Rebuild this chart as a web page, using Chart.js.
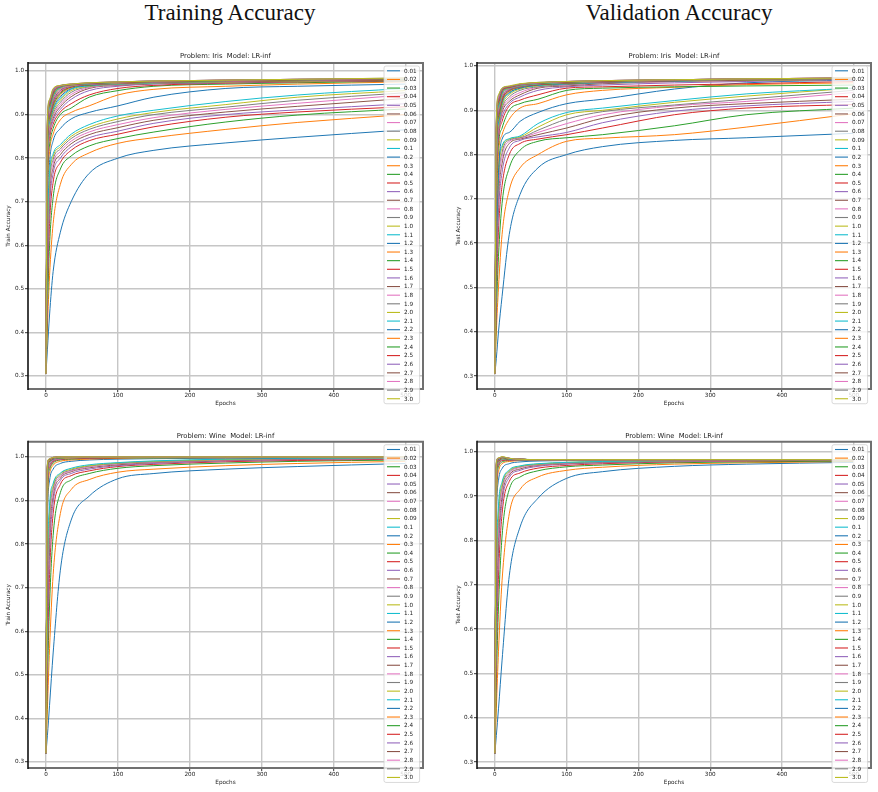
<!DOCTYPE html>
<html>
<head>
<meta charset="utf-8">
<title>Training / Validation Accuracy</title>
<script src="https://cdn.jsdelivr.net/npm/chart.js@4.4.1/dist/chart.umd.min.js"></script>
<style>
  html, body { margin: 0; padding: 0; background: #fff; }
  #fig { position: relative; width: 878px; height: 792px; overflow: hidden; }
  .col-title { position: absolute; top: 1px; width: 300px; text-align: center;
    font: 23px 'Liberation Serif', 'DejaVu Serif', serif; line-height: 23px; color: #111; }
  canvas { position: absolute; }
</style>
</head>
<body>
<div id="fig">
  <div class="col-title" style="left:80px">Training Accuracy</div>
  <div class="col-title" style="left:529px">Validation Accuracy</div>
  <canvas id="c-iris-train" style="left:0;top:40px" width="440" height="375"></canvas>
  <canvas id="c-iris-test" style="left:440px;top:40px" width="438" height="375"></canvas>
  <canvas id="c-wine-train" style="left:0;top:425px" width="440" height="367"></canvas>
  <canvas id="c-wine-test" style="left:440px;top:425px" width="438" height="367"></canvas>
</div>
<script>
// learning rates, one line per rate
const lrLabels = ['0.01', '0.02', '0.03', '0.04', '0.05', '0.06', '0.07', '0.08', '0.09',
  '0.1', '0.2', '0.3', '0.4', '0.5', '0.6', '0.7', '0.8', '0.9', '1.0', '1.1', '1.2', '1.3',
  '1.4', '1.5', '1.6', '1.7', '1.8', '1.9', '2.0', '2.1', '2.2', '2.3', '2.4', '2.5', '2.6',
  '2.7', '2.8', '2.9', '3.0'];

// sampled epochs (the x of every row below)
const epochs = [0, 2, 5, 10, 20, 35, 60, 100, 150, 250, 350, 499];

const xTicks = [0, 100, 200, 300, 400, 500];
const yTicks = [0.3, 0.4, 0.5, 0.6, 0.7, 0.8, 0.9, 1.0];

// matplotlib tab10
const tab10 = ['#1f77b4', '#ff7f0e', '#2ca02c', '#d62728', '#9467bd',
  '#8c564b', '#e377c2', '#7f7f7f', '#bcbd22', '#17becf'];

// Iris - train accuracy, one row per learning rate
const irisTrainAcc = [
  [.305, .36, .44, .54, .63, .70, .765, .80, .818, .835, .848, .865],
  [.305, .41, .53, .65, .74, .785, .812, .834, .847, .866, .882, .90],
  [.305, .45, .60, .71, .775, .805, .828, .845, .86, .883, .899, .913],
  [.305, .49, .65, .745, .79, .818, .84, .855, .872, .894, .906, .918],
  [.305, .52, .685, .765, .80, .826, .847, .862, .88, .90, .911, .925],
  [.305, .55, .71, .778, .808, .833, .854, .87, .887, .906, .919, .937],
  [.305, .57, .728, .788, .815, .839, .86, .877, .893, .912, .926, .945],
  [.305, .59, .742, .797, .821, .845, .866, .884, .90, .917, .933, .95],
  [.305, .61, .754, .804, .826, .85, .871, .89, .905, .923, .94, .955],
  [.305, .63, .765, .81, .831, .855, .877, .897, .91, .93, .945, .96],
  [.305, .68, .79, .84, .868, .89, .905, .92, .94, .96, .965, .97],
  [.305, .71, .815, .855, .888, .905, .92, .945, .958, .965, .97, .975],
  [.305, .735, .83, .868, .90, .915, .94, .955, .965, .97, .973, .977],
  [.305, .755, .845, .878, .906, .925, .945, .96, .967, .972, .975, .978],
  [.305, .77, .855, .886, .912, .935, .955, .965, .97, .973, .976, .978],
  [.305, .78, .862, .892, .918, .941, .96, .967, .971, .974, .976, .978],
  [.305, .79, .867, .897, .923, .946, .962, .968, .972, .975, .977, .979],
  [.305, .80, .872, .902, .928, .951, .964, .969, .972, .975, .977, .979],
  [.305, .81, .877, .907, .933, .955, .965, .97, .973, .975, .977, .979],
  [.305, .815, .881, .911, .937, .958, .966, .97, .973, .976, .978, .98],
  [.305, .82, .885, .915, .941, .96, .967, .971, .974, .976, .978, .98],
  [.305, .825, .889, .919, .945, .962, .968, .971, .974, .976, .978, .98],
  [.305, .83, .893, .922, .948, .963, .968, .972, .974, .977, .978, .98],
  [.305, .835, .896, .926, .951, .964, .969, .972, .975, .977, .978, .98],
  [.305, .84, .899, .929, .954, .965, .969, .972, .975, .977, .979, .981],
  [.305, .845, .902, .932, .956, .966, .97, .973, .975, .977, .979, .981],
  [.305, .85, .905, .935, .958, .966, .97, .973, .975, .977, .979, .981],
  [.305, .854, .908, .938, .96, .967, .97, .973, .975, .978, .979, .981],
  [.305, .858, .911, .941, .961, .967, .971, .973, .976, .978, .98, .982],
  [.305, .862, .914, .943, .962, .968, .971, .974, .976, .978, .98, .982],
  [.305, .866, .917, .945, .963, .968, .971, .974, .976, .978, .98, .982],
  [.305, .87, .92, .947, .964, .968, .972, .974, .976, .978, .98, .982],
  [.305, .873, .922, .949, .964, .969, .972, .974, .976, .978, .98, .982],
  [.305, .876, .925, .951, .965, .969, .972, .974, .976, .979, .98, .983],
  [.305, .879, .927, .953, .965, .969, .972, .975, .977, .979, .981, .983],
  [.305, .882, .929, .955, .966, .97, .972, .975, .977, .979, .981, .983],
  [.305, .885, .931, .957, .966, .97, .973, .975, .977, .979, .981, .983],
  [.305, .888, .933, .958, .967, .97, .973, .975, .977, .979, .981, .984],
  [.305, .89, .935, .96, .967, .97, .973, .975, .977, .979, .981, .984],
];

// Iris - test accuracy
const irisTestAcc = [
  [.305, .34, .40, .48, .62, .71, .77, .80, .818, .832, .838, .848],
  [.305, .40, .50, .62, .72, .77, .80, .83, .837, .845, .862, .892],
  [.305, .44, .57, .69, .77, .81, .83, .838, .845, .865, .89, .905],
  [.305, .48, .63, .73, .80, .825, .835, .845, .86, .89, .905, .913],
  [.305, .51, .67, .76, .815, .832, .84, .85, .872, .898, .91, .92],
  [.305, .54, .70, .78, .825, .835, .845, .86, .882, .905, .915, .925],
  [.305, .56, .72, .795, .83, .837, .85, .87, .89, .91, .92, .94],
  [.305, .58, .74, .805, .833, .838, .855, .88, .897, .912, .925, .945],
  [.305, .60, .755, .815, .835, .84, .862, .89, .90, .918, .932, .95],
  [.305, .62, .77, .82, .836, .842, .87, .895, .905, .922, .937, .95],
  [.305, .58, .76, .835, .85, .875, .895, .915, .925, .948, .962, .968],
  [.305, .65, .80, .845, .88, .905, .915, .935, .945, .952, .958, .962],
  [.305, .69, .82, .86, .90, .915, .925, .945, .95, .953, .955, .957],
  [.305, .72, .835, .875, .91, .923, .935, .95, .953, .957, .96, .965],
  [.305, .74, .845, .885, .915, .93, .945, .953, .957, .962, .965, .97],
  [.305, .76, .85, .895, .92, .935, .95, .955, .96, .965, .967, .97],
  [.305, .77, .855, .90, .925, .94, .952, .957, .962, .965, .968, .97],
  [.305, .78, .86, .905, .93, .945, .953, .958, .962, .966, .968, .97],
  [.305, .79, .865, .91, .935, .948, .955, .96, .963, .966, .968, .97],
  [.305, .80, .87, .915, .938, .95, .956, .96, .963, .966, .969, .97],
  [.305, .81, .875, .918, .94, .95, .957, .96, .963, .966, .969, .97],
  [.305, .815, .88, .92, .942, .952, .958, .961, .964, .967, .969, .971],
  [.305, .82, .885, .923, .944, .952, .958, .961, .964, .967, .969, .971],
  [.305, .825, .89, .925, .945, .953, .958, .962, .964, .967, .969, .971],
  [.305, .83, .893, .928, .946, .953, .959, .962, .964, .967, .97, .971],
  [.305, .835, .896, .93, .947, .954, .959, .962, .965, .967, .97, .971],
  [.305, .84, .90, .932, .948, .955, .96, .963, .965, .968, .97, .972],
  [.305, .845, .903, .935, .949, .955, .96, .963, .965, .968, .97, .972],
  [.305, .85, .906, .937, .95, .956, .96, .963, .965, .968, .97, .972],
  [.305, .853, .909, .939, .95, .956, .96, .963, .966, .968, .97, .972],
  [.305, .856, .912, .941, .951, .957, .961, .964, .966, .968, .97, .972],
  [.305, .86, .915, .943, .951, .957, .961, .964, .966, .968, .97, .972],
  [.305, .863, .918, .945, .952, .958, .961, .964, .966, .969, .971, .972],
  [.305, .866, .92, .946, .952, .958, .962, .964, .966, .969, .971, .973],
  [.305, .869, .923, .947, .953, .958, .962, .965, .967, .969, .971, .973],
  [.305, .872, .926, .948, .953, .959, .962, .965, .967, .969, .971, .973],
  [.305, .875, .929, .949, .954, .959, .962, .965, .967, .969, .971, .973],
  [.305, .878, .932, .95, .954, .959, .963, .965, .967, .969, .971, .973],
  [.305, .88, .935, .95, .955, .96, .963, .965, .967, .969, .971, .973],
];

// Wine - train accuracy
const wineTrainAcc = [
  [.32, .36, .43, .55, .74, .855, .91, .95, .962, .972, .978, .985],
  [.32, .42, .56, .73, .87, .925, .948, .965, .972, .98, .985, .99],
  [.32, .48, .66, .82, .918, .947, .962, .974, .98, .986, .99, .993],
  [.32, .53, .73, .87, .937, .957, .968, .978, .983, .989, .992, .995],
  [.32, .58, .78, .895, .946, .962, .972, .98, .985, .991, .994, .996],
  [.32, .62, .815, .91, .951, .966, .975, .982, .987, .992, .995, .997],
  [.32, .66, .84, .92, .955, .968, .977, .984, .988, .993, .996, .997],
  [.32, .69, .86, .928, .958, .97, .979, .985, .989, .994, .996, .998],
  [.32, .72, .875, .934, .961, .972, .98, .986, .99, .994, .997, .998],
  [.32, .74, .888, .939, .963, .974, .982, .987, .991, .995, .997, .998],
  [.32, .84, .945, .972, .985, .99, .993, .995, .996, .997, .998, .999],
  [.32, .88, .962, .981, .99, .993, .995, .997, .998, .998, .999, .999],
  [.32, .905, .971, .986, .993, .995, .997, .998, .998, .999, .999, 1],
  [.32, .92, .976, .989, .994, .996, .997, .998, .999, .999, 1, 1],
  [.32, .93, .98, .991, .995, .997, .998, .999, .999, 1, 1, 1],
  [.32, .938, .983, .992, .996, .997, .998, .999, 1, 1, 1, 1],
  [.32, .945, .985, .993, .996, .998, .999, .999, 1, 1, 1, 1],
  [.32, .95, .987, .994, .997, .998, .999, 1, 1, 1, 1, 1],
  [.32, .955, .988, .995, .997, .998, .999, 1, 1, 1, 1, 1],
  [.32, .958, .989, .995, .998, .999, 1, 1, 1, 1, 1, 1],
  [.32, .961, .99, .995, .998, .999, 1, 1, 1, 1, 1, 1],
  [.32, .963, .99, .996, .998, .999, 1, 1, 1, 1, 1, 1],
  [.32, .965, .991, .996, .998, .999, 1, 1, 1, 1, 1, 1],
  [.32, .967, .991, .996, .999, .999, 1, 1, 1, 1, 1, 1],
  [.32, .969, .992, .997, .999, 1, 1, 1, 1, 1, 1, 1],
  [.32, .971, .992, .997, .999, 1, 1, 1, 1, 1, 1, 1],
  [.32, .972, .993, .997, .999, 1, 1, 1, 1, 1, 1, 1],
  [.32, .973, .993, .997, .999, 1, 1, 1, 1, 1, 1, 1],
  [.32, .974, .993, .998, .999, 1, 1, 1, 1, 1, 1, 1],
  [.32, .975, .994, .998, .999, 1, 1, 1, 1, 1, 1, 1],
  [.32, .976, .994, .998, 1, 1, 1, 1, 1, 1, 1, 1],
  [.32, .977, .994, .998, 1, 1, 1, 1, 1, 1, 1, 1],
  [.32, .978, .995, .998, 1, 1, 1, 1, 1, 1, 1, 1],
  [.32, .979, .995, .998, 1, 1, 1, 1, 1, 1, 1, 1],
  [.32, .98, .995, .999, 1, 1, 1, 1, 1, 1, 1, 1],
  [.32, .981, .995, .999, 1, 1, 1, 1, 1, 1, 1, 1],
  [.32, .982, .996, .999, 1, 1, 1, 1, 1, 1, 1, 1],
  [.32, .983, .996, .999, 1, 1, 1, 1, 1, 1, 1, 1],
  [.32, .984, .996, .999, 1, 1, 1, 1, 1, 1, 1, 1],
];

// Wine - test accuracy (fast rates overshoot a little near epoch 10)
const wineTestAcc = [
  [.32, .36, .42, .53, .72, .83, .895, .94, .955, .967, .972, .976],
  [.32, .42, .55, .71, .86, .915, .943, .958, .965, .972, .975, .978],
  [.32, .48, .65, .81, .915, .943, .957, .966, .97, .975, .977, .979],
  [.32, .53, .72, .86, .933, .952, .963, .969, .973, .977, .979, .98],
  [.32, .58, .77, .885, .942, .958, .967, .972, .975, .978, .98, .981],
  [.32, .62, .80, .90, .947, .961, .969, .973, .976, .979, .98, .981],
  [.32, .66, .83, .912, .951, .964, .97, .974, .977, .979, .98, .981],
  [.32, .69, .85, .92, .954, .966, .971, .975, .977, .979, .981, .982],
  [.32, .71, .865, .927, .957, .967, .972, .976, .978, .98, .981, .982],
  [.32, .73, .878, .932, .959, .968, .973, .976, .978, .98, .981, .982],
  [.32, .83, .935, .962, .973, .977, .979, .98, .981, .982, .982, .982],
  [.32, .87, .955, .973, .978, .98, .981, .981, .982, .982, .982, .982],
  [.32, .895, .965, .977, .98, .981, .981, .982, .982, .982, .982, .982],
  [.32, .91, .97, .98, .981, .981, .982, .982, .982, .982, .982, .982],
  [.32, .92, .972, .982, .982, .982, .982, .982, .982, .982, .982, .982],
  [.32, .926, .974, .983, .982, .982, .982, .982, .982, .982, .982, .982],
  [.32, .932, .975, .983, .982, .982, .982, .982, .982, .982, .982, .982],
  [.32, .937, .976, .984, .983, .982, .982, .982, .982, .982, .982, .982],
  [.32, .941, .977, .984, .983, .982, .982, .982, .982, .982, .982, .982],
  [.32, .945, .978, .984, .983, .982, .982, .982, .982, .982, .982, .982],
  [.32, .948, .979, .985, .983, .982, .982, .982, .982, .982, .982, .982],
  [.32, .951, .979, .985, .983, .982, .982, .982, .982, .982, .982, .982],
  [.32, .954, .98, .985, .983, .983, .982, .982, .982, .982, .982, .982],
  [.32, .957, .98, .985, .984, .983, .982, .982, .982, .982, .982, .982],
  [.32, .959, .981, .986, .984, .983, .982, .982, .982, .982, .982, .982],
  [.32, .961, .981, .986, .984, .983, .982, .982, .982, .982, .982, .982],
  [.32, .963, .982, .986, .984, .983, .982, .982, .982, .982, .982, .982],
  [.32, .965, .982, .986, .984, .983, .982, .982, .982, .982, .982, .982],
  [.32, .967, .983, .986, .984, .983, .982, .982, .982, .982, .982, .982],
  [.32, .968, .983, .987, .984, .983, .982, .982, .982, .982, .982, .982],
  [.32, .969, .983, .987, .984, .983, .982, .982, .982, .982, .982, .982],
  [.32, .97, .984, .987, .985, .983, .982, .982, .982, .982, .982, .982],
  [.32, .971, .984, .987, .985, .983, .982, .982, .982, .982, .982, .982],
  [.32, .972, .984, .987, .985, .983, .982, .982, .982, .982, .982, .982],
  [.32, .973, .985, .988, .985, .983, .982, .982, .982, .982, .982, .982],
  [.32, .974, .985, .988, .985, .983, .982, .982, .982, .982, .982, .982],
  [.32, .975, .985, .988, .985, .983, .982, .982, .982, .982, .982, .982],
  [.32, .976, .986, .988, .985, .983, .982, .982, .982, .982, .982, .982],
  [.32, .977, .986, .989, .985, .983, .982, .982, .982, .982, .982, .982],
];

const FONT = "'DejaVu Sans', sans-serif";
const SMALL = 5.7;

// title, frame (spines) and the in-axes legend, drawn like matplotlib does
const panelDecor = {
  id: 'panelDecor',
  afterDatasetsDraw(chart, args, opts) {
    const ctx = chart.ctx, a = chart.chartArea;
    ctx.save();
    ctx.lineCap = 'butt';
    ctx.strokeStyle = '#707070';
    ctx.lineWidth = 2;
    ctx.beginPath();
    ctx.moveTo(a.left, a.top); ctx.lineTo(a.right, a.top);
    ctx.lineTo(a.right, a.bottom); ctx.lineTo(a.left, a.bottom);
    ctx.stroke();
    ctx.strokeStyle = '#111';
    ctx.lineWidth = 1.6;
    ctx.beginPath();
    ctx.moveTo(a.left, a.top - 1); ctx.lineTo(a.left, a.bottom + 1);
    ctx.stroke();
    ctx.restore();
  },
  afterDraw(chart, args, opts) {
    const ctx = chart.ctx, a = chart.chartArea;
    const sets = chart.data.datasets;
    ctx.save();
    // title
    ctx.fillStyle = '#222';
    ctx.font = '6.8px ' + FONT;
    ctx.textAlign = 'center';
    ctx.textBaseline = 'middle';
    ctx.fillText(opts.title, (a.left + a.right) / 2, a.top - opts.titleGap);

    // legend
    const step = 8.63;
    const firstY = a.top + 7.8;
    const boxL = a.right - 39, boxR = a.right - 3.4;
    const boxT = a.top + 3, boxB = firstY + step * (sets.length - 1) + 5;
    ctx.beginPath();
    ctx.roundRect(boxL, boxT, boxR - boxL, boxB - boxT, 2);
    ctx.fillStyle = 'rgba(255,255,255,0.8)';
    ctx.fill();
    ctx.strokeStyle = 'rgba(204,204,204,0.9)';
    ctx.lineWidth = 0.8;
    ctx.stroke();
    ctx.font = SMALL + 'px ' + FONT;
    ctx.textAlign = 'left';
    ctx.textBaseline = 'middle';
    sets.forEach(function (ds, i) {
      const y = firstY + i * step;
      ctx.strokeStyle = ds.borderColor;
      ctx.lineWidth = 1.1;
      ctx.beginPath();
      ctx.moveTo(boxL + 3, y);
      ctx.lineTo(boxL + 16, y);
      ctx.stroke();
      ctx.fillStyle = '#222';
      ctx.fillText(ds.label, boxL + 20, y + 0.3);
    });
    ctx.restore();
  }
};

function makePanel(id, rows, p) {
  const datasets = rows.map(function (vals, i) {
    return {
      label: lrLabels[i],
      data: vals.map(function (v, k) { return { x: epochs[k], y: v }; }),
      borderColor: tab10[i % 10],
      borderWidth: 1,
      pointRadius: 0,
      fill: false,
      cubicInterpolationMode: 'monotone',
      order: rows.length - i,   // later rates on top, like matplotlib
    };
  });

  const gridOpts = { color: '#c6c6c6', lineWidth: 1.4, tickColor: '#333', tickLength: 3, tickWidth: 1 };

  new Chart(document.getElementById(id), {
    type: 'line',
    data: { datasets: datasets },
    options: {
      responsive: false,
      animation: false,
      events: [],
      layout: { padding: { top: p.padTop, right: p.padRight, left: 0, bottom: 0 } },
      plugins: {
        legend: { display: false },
        tooltip: { enabled: false },
        panelDecor: { title: p.title, titleGap: p.titleGap },
      },
      scales: {
        x: {
          type: 'linear',
          min: -24.95,
          max: 523.95,
          afterFit: function (s) { s.height = p.xH; },
          afterBuildTicks: function (s) { s.ticks = xTicks.map(function (v) { return { value: v }; }); },
          grid: gridOpts,
          border: { display: false },
          ticks: { autoSkip: false, maxRotation: 0, padding: 0.5, color: '#222',
            font: { family: FONT, size: SMALL }, callback: function (v) { return String(v); } },
          title: { display: true, text: 'Epochs', color: '#222', font: { family: FONT, size: SMALL },
            padding: { top: 0, bottom: p.xTitlePad } },
        },
        y: {
          type: 'linear',
          min: p.yMin,
          max: p.yMax,
          afterFit: function (s) { s.width = p.yW; },
          afterBuildTicks: function (s) { s.ticks = yTicks.map(function (v) { return { value: v }; }); },
          grid: gridOpts,
          border: { display: false },
          ticks: { autoSkip: false, padding: 1, color: '#222',
            font: { family: FONT, size: SMALL }, callback: function (v) { return v.toFixed(1); } },
          title: { display: true, text: p.yTitle, color: '#222', font: { family: FONT, size: SMALL },
            padding: { top: p.yTitlePad, bottom: 0 } },
        },
      },
    },
    plugins: [panelDecor],
  });
}

makePanel('c-iris-train', irisTrainAcc, {
  title: 'Problem: Iris  Model: LR-inf', titleGap: 6.3, padTop: 23, padRight: 17,
  xH: 26, yW: 28, yMin: 0.2702, yMax: 1.0184, yTitle: 'Train Accuracy', yTitlePad: 5.6, xTitlePad: 8.3,
});
makePanel('c-iris-test', irisTestAcc, {
  title: 'Problem: Iris  Model: LR-inf', titleGap: 6.3, padTop: 23, padRight: 7,
  xH: 26, yW: 37, yMin: 0.2707, yMax: 1.0068, yTitle: 'Test Accuracy', yTitlePad: 14.9, xTitlePad: 8.3,
});
makePanel('c-wine-train', wineTrainAcc, {
  title: 'Problem: Wine  Model: LR-inf', titleGap: 5.7, padTop: 16.7, padRight: 17,
  xH: 24, yW: 28, yMin: 0.286, yMax: 1.035, yTitle: 'Train Accuracy', yTitlePad: 5.6, xTitlePad: 5.9,
});
makePanel('c-wine-test', wineTestAcc, {
  title: 'Problem: Wine  Model: LR-inf', titleGap: 5.7, padTop: 16.7, padRight: 7,
  xH: 24, yW: 37, yMin: 0.2866, yMax: 1.0226, yTitle: 'Test Accuracy', yTitlePad: 14.9, xTitlePad: 5.9,
});
</script>
</body>
</html>
